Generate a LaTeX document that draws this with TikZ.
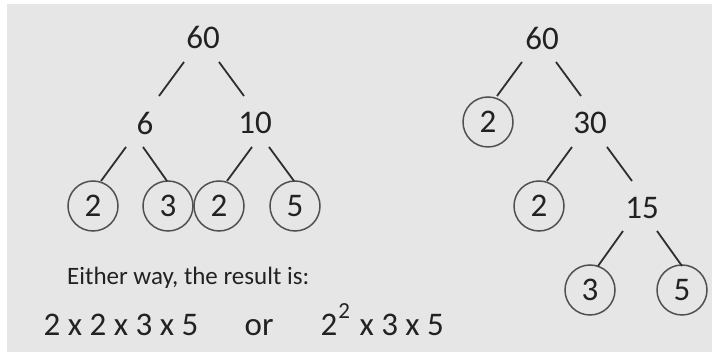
\documentclass[tikz,border=0pt]{standalone}
\usepackage{fontspec}
\setmainfont{Carlito}
\definecolor{bg}{HTML}{E6E6E6}
\definecolor{txt}{HTML}{222222}
\definecolor{ln}{HTML}{2E2E2E}
\definecolor{circ}{HTML}{505050}
\begin{document}
\begin{tikzpicture}[x=1pt,y=-1pt,
  num/.style={font=\fontsize{33}{40}\selectfont, text=txt, inner sep=0pt},
  leaf/.style={num, circle, draw=circ, line width=1.5pt, minimum size=50pt},
  edge/.style={draw=ln, line width=1.8pt},
  label/.style={text=txt, inner sep=0pt, anchor=base west}]
\useasboundingbox (0,0) rectangle (713,352);
\fill[white] (0,0) rectangle (713,352);
\fill[bg] (7,4) rectangle (712,352);
% left tree
\node[num] (l60) at (203,37) {60};
\node[num] (l6) at (145,123) {6};
\node[num] (l10) at (255,123) {10};
\node[leaf] (la2) at (93,206) {2};
\node[leaf] (la3) at (168,206) {3};
\node[leaf] (lb2) at (219,206) {2};
\node[leaf] (lb5) at (295,206) {5};
\draw[edge] ([shift={(-19,25)}]l60.center) -- ([shift={(14,-27)}]l6.center);
\draw[edge] ([shift={(16,25)}]l60.center) -- ([shift={(-11,-27)}]l10.center);
\draw[edge] ([shift={(-19,24)}]l6.center) -- ([shift={(8,-25)}]la2.center);
\draw[edge] ([shift={(-2,24)}]l6.center) -- ([shift={(-1,-25)}]la3.center);
\draw[edge] ([shift={(-3,24)}]l10.center) -- ([shift={(8,-25)}]lb2.center);
\draw[edge] ([shift={(14,24)}]l10.center) -- ([shift={(-1,-25)}]lb5.center);
% right tree
\node[num] (r60) at (542,38) {60};
\node[leaf] (r2a) at (488,122) {2};
\node[num] (r30) at (590,123) {30};
\node[leaf] (r2b) at (539,206) {2};
\node[num] (r15) at (642,208) {15};
\node[leaf] (r3) at (590,290) {3};
\node[leaf] (r5) at (682,290) {5};
\draw[edge] ([shift={(-20,24)}]r60.center) -- ([shift={(9,-26)}]r2a.center);
\draw[edge] ([shift={(14,24)}]r60.center) -- ([shift={(-9,-27)}]r30.center);
\draw[edge] ([shift={(-18,24)}]r30.center) -- ([shift={(8,-25)}]r2b.center);
\draw[edge] ([shift={(17,24)}]r30.center) -- ([shift={(-10,-27)}]r15.center);
\draw[edge] ([shift={(-19,23)}]r15.center) -- ([shift={(8,-24)}]r3.center);
\draw[edge] ([shift={(15,23)}]r15.center) -- ([shift={(0,-24)}]r5.center);
% bottom text
\node[label, font=\fontsize{25}{30}\selectfont] (either) at (67,285) {Either way, the result is:};
\node[label, font=\fontsize{33}{40}\selectfont] (prod) at (43.5,336) {2 x 2 x 3 x 5};
\node[label, font=\fontsize{33}{40}\selectfont] (or) at (244.5,336) {or};
\node[label, font=\fontsize{33}{40}\selectfont] (pow) at (320.5,336) {2\raisebox{17pt}{\fontsize{23}{24}\selectfont\kern1pt 2}\kern2pt{} x 3 x 5};
\end{tikzpicture}
\end{document}
